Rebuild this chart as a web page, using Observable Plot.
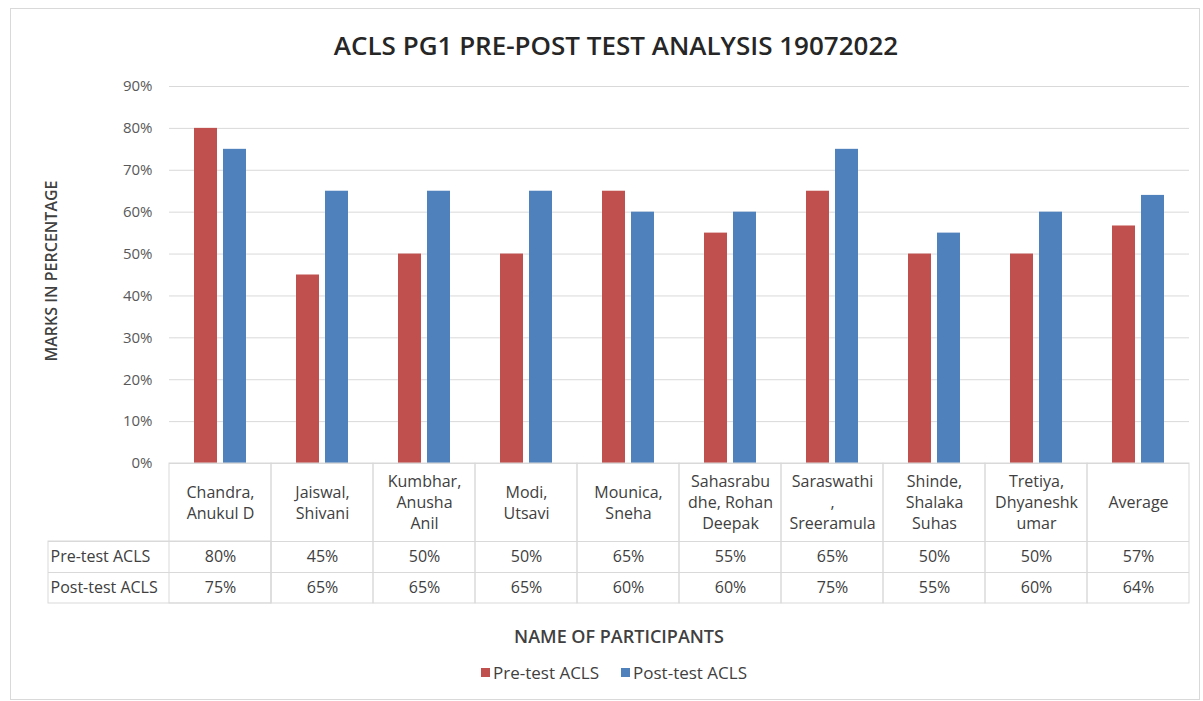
<!DOCTYPE html>
<html>
<head>
<meta charset="utf-8">
<script src="https://cdn.jsdelivr.net/npm/d3@7"></script>
<script src="https://cdn.jsdelivr.net/npm/@observablehq/plot@0.6"></script>
<style>
  html, body { margin: 0; padding: 0; background: #fff; }
  #wrap { position: relative; width: 1203px; height: 701px; overflow: hidden; font-family: "Open Sans", sans-serif; color: #404040; }
  #border { position: absolute; left: 10px; top: 8px; width: 1190px; height: 692px; border: 1px solid #d9d9d9; box-sizing: border-box; }
  #title { position: absolute; left: 0; top: 27px; width: 1232px; text-align: center; font-size: 26px; line-height: 36px; font-weight: 600; color: #262626; }
  #chart { position: absolute; left: 0; top: 0; }
  #xtitle { position: absolute; left: 0; top: 624px; width: 1238px; text-align: center; font-size: 18px; line-height: 24px; font-weight: 600; color: #404040; }
  #legend { position: absolute; left: 0; top: 656px; width: 1250px; display: flex; justify-content: center; }
  #legend svg { margin-right: 3px !important; }
  #legend span { margin-right: 22px !important; }
</style>
</head>
<body>
<div id="wrap">
  <div id="border"></div>
  <div id="chart"></div>
  <div id="title">ACLS PG1 PRE-POST TEST ANALYSIS 19072022</div>
  <div id="xtitle">NAME OF PARTICIPANTS</div>
  <div id="legend"></div>
</div>
<script>
// ---- data ----
const participants = [
  "Chandra,\nAnukul D",
  "Jaiswal,\nShivani",
  "Kumbhar,\nAnusha\nAnil",
  "Modi,\nUtsavi",
  "Mounica,\nSneha",
  "Sahasrabu\ndhe, Rohan\nDeepak",
  "Saraswathi\n,\nSreeramula",
  "Shinde,\nShalaka\nSuhas",
  "Tretiya,\nDhyaneshk\numar",
  "Average"
];
const preTest  = [0.80, 0.45, 0.50, 0.50, 0.65, 0.55, 0.65, 0.50, 0.50, 0.567];
const postTest = [0.75, 0.65, 0.65, 0.65, 0.60, 0.60, 0.75, 0.55, 0.60, 0.64];
const seriesNames = ["Pre-test ACLS", "Post-test ACLS"];
const seriesColors = ["#C0504D", "#4F81BD"];
const yTicks = [0, 0.1, 0.2, 0.3, 0.4, 0.5, 0.6, 0.7, 0.8, 0.9];

// table built from arrays
const rows = participants.map((name, i) => ({name, pre: preTest[i], post: postTest[i]}));

// ---- layout ----
const W = 1203, H = 620;
const mTop = 86, mBottom = 157, mLeft = 169, mRight = 14;
const frameH = H - mTop - mBottom;
const step = (W - mLeft - mRight) / participants.length;
const half = step / 2;
const tableH = 140, headerH = 78, rowH = 31;
const leftCol = 121;
const pct = d3.format(".0%");
const grid = "#d9d9d9";
const txt = "#404040";
const tfs = 16;

const plot = Plot.plot({
  width: W,
  height: H,
  marginTop: mTop,
  marginBottom: mBottom,
  marginLeft: mLeft,
  marginRight: mRight,
  style: {fontFamily: "Open Sans, sans-serif", color: txt, background: "transparent"},
  x: {domain: participants, padding: 0, axis: null},
  y: {domain: [0, 0.9], axis: null},
  marks: [
    Plot.gridY(yTicks, {stroke: grid, strokeOpacity: 1}),
    Plot.axisY(yTicks, {tickSize: 0, tickPadding: 17, tickFormat: pct, fontSize: 15, fill: "#595959", label: null}),
    Plot.text(["MARKS IN PERCENTAGE"], {frameAnchor: "left", dx: -118, dy: -4, rotate: -90, textAnchor: "middle", lineAnchor: "middle", fontSize: 16, fontWeight: 600, fill: txt}),
    // bars
    Plot.barY(rows, {x: "name", y: "pre", fill: seriesColors[0], insetLeft: half - 26, insetRight: half + 3}),
    Plot.barY(rows, {x: "name", y: "post", fill: seriesColors[1], insetLeft: half + 3, insetRight: half - 26}),
    // data table grid
    Plot.cell(participants, {x: d => d, fill: "none", stroke: grid, insetTop: frameH, insetBottom: -tableH}),
    Plot.cell(participants.slice(0, 1), {x: d => d, fill: "none", stroke: grid, insetLeft: -leftCol, insetTop: frameH + headerH, insetBottom: -tableH}),
    Plot.ruleY([0], {dy: headerH, insetLeft: -leftCol, stroke: grid}),
    Plot.ruleY([0], {dy: headerH + rowH, insetLeft: -leftCol, stroke: grid}),
    // header names
    Plot.text(participants, {x: d => d, text: d => d, frameAnchor: "bottom", dy: 38, lineAnchor: "middle", lineHeight: 1.3, fontSize: tfs, fill: txt}),
    // values
    Plot.text(rows, {x: "name", text: d => pct(d.pre), frameAnchor: "bottom", dy: headerH + rowH / 2, lineAnchor: "middle", fontSize: tfs, fill: txt}),
    Plot.text(rows, {x: "name", text: d => pct(d.post), frameAnchor: "bottom", dy: headerH + rowH * 1.5, lineAnchor: "middle", fontSize: tfs, fill: txt}),
    // row labels
    Plot.text([seriesNames[0]], {frameAnchor: "bottom-left", dx: -leftCol + 2, dy: headerH + rowH / 2, textAnchor: "start", lineAnchor: "middle", fontSize: tfs, fill: txt}),
    Plot.text([seriesNames[1]], {frameAnchor: "bottom-left", dx: -leftCol + 2, dy: headerH + rowH * 1.5, textAnchor: "start", lineAnchor: "middle", fontSize: tfs, fill: txt})
  ]
});
document.getElementById("chart").appendChild(plot);

const legend = Plot.legend({
  color: {type: "ordinal", domain: seriesNames, range: seriesColors},
  legend: "swatches",
  swatchSize: 9,
  style: {fontFamily: "Open Sans, sans-serif", fontSize: "17px", color: txt}
});
document.getElementById("legend").appendChild(legend);
</script>
</body>
</html>
